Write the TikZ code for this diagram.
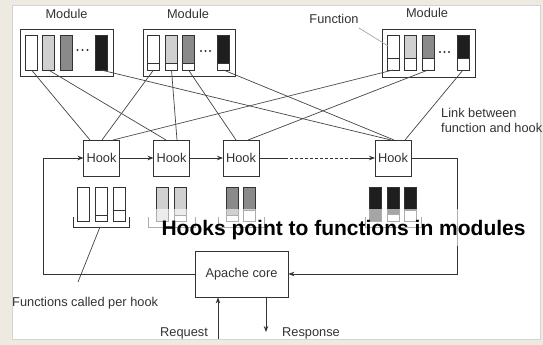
\documentclass[tikz,border=0pt]{standalone}
\usepackage{fontspec}
\setmainfont{Liberation Sans}
\usetikzlibrary{arrows.meta}
\definecolor{bgc}{HTML}{EDEBE1}
\definecolor{panelc}{HTML}{D4D4D4}
\definecolor{linec}{HTML}{333333}
\definecolor{connc}{HTML}{444444}
\definecolor{textc}{HTML}{333333}
\definecolor{lightg}{HTML}{D0D0D0}
\definecolor{midg}{HTML}{8A8A8A}
\definecolor{blackf}{HTML}{1E1E1E}
\definecolor{ptrc}{HTML}{9A9A9A}
\newcommand{\lblfont}{\fontsize{12.8}{15}\selectfont}
\begin{document}
\begin{tikzpicture}[x=1pt,y=-1pt,
  modbox/.style={draw=linec, line width=0.8pt, inner sep=0pt, outer sep=0pt},
  fn/.style={draw=linec, line width=0.7pt, minimum width=12pt, minimum height=35pt, inner sep=0pt, outer sep=0pt},
  gfn/.style={draw=linec, line width=0.7pt, minimum width=12pt, minimum height=34pt, inner sep=0pt, outer sep=0pt},
  comp/.style={draw=linec, line width=0.7pt, fill=white},
  hookbox/.style={draw=linec, line width=0.8pt, minimum width=36pt, minimum height=36pt, inner sep=0pt, outer sep=0pt, font=\lblfont, text=textc},
  conn/.style={draw=connc, line width=0.7pt},
  flow/.style={draw=linec, line width=0.8pt},
  tip/.style={-{Stealth[length=6pt,width=4.5pt]}},
  brk/.style={draw=linec, line width=0.7pt},
  lbl/.style={font=\lblfont, text=textc, inner sep=0pt},
  dot/.style={fill=linec}
]
\useasboundingbox (0,0) rectangle (543,345);
\fill[bgc] (0,0) rectangle (543,345);
\draw[panelc, fill=white, line width=0.6pt] (12,5) rectangle (540,339);

% ---------- modules ----------
\node[modbox, minimum width=93pt, minimum height=47pt] (mod1) at (66.5,52.5) {};
\node[modbox, minimum width=92pt, minimum height=47pt] (mod2) at (189,52.5) {};
\node[modbox, minimum width=93pt, minimum height=48pt] (mod3) at (428.5,53) {};

\node[lbl] (lm1) at (66.5,14) {Module};
\node[lbl] (lm2) at (188,14) {Module};
\node[lbl] (lm3) at (427,13) {Module};
\node[lbl] (lfn) at (334,19) {Function};

% module 1 functions
\node[fn, fill=white]  (m1a) at (31.5,52.5) {};
\node[fn, fill=lightg] (m1b) at (48.5,52.5) {};
\node[fn, fill=midg]   (m1c) at (66,52.5) {};
\node[fn, fill=blackf] (m1d) at (101,52.5) {};
\foreach \x in {77.5,82.5,87.5} \fill[dot] (\x,50) circle (1.2);

% module 2 functions
\node[fn, fill=white]  (m2a) at (153.5,52.5) {};
\node[fn, fill=lightg] (m2b) at (171.5,52.5) {};
\node[fn, fill=midg]   (m2c) at (188.5,52.5) {};
\node[fn, fill=blackf] (m2d) at (223.5,52.5) {};
\foreach \x in {153.5,171.5,188.5,223.5} \draw[comp] (\x-6,63.5) rectangle (\x+6,70);
\foreach \x in {201,205.5,210} \fill[dot] (\x,51) circle (1.2);

% module 3 functions
\node[fn, fill=white]  (m3a) at (393,52.5) {};
\node[fn, fill=lightg] (m3b) at (410.5,52.5) {};
\node[fn, fill=midg]   (m3c) at (428,52.5) {};
\node[fn, fill=blackf] (m3d) at (463,52.5) {};
\foreach \x in {393,410.5,428,463} \draw[comp] (\x-6,58) rectangle (\x+6,70);
\foreach \x in {440,444.5,449} \fill[dot] (\x,52) circle (1.2);

% pointer from "Function"
\coordinate (fnp) at (359,28);
\coordinate (fnq) at (388,46);
\draw[ptrc, line width=0.6pt] (fnp) -- (fnq);

% ---------- hooks ----------
\node[hookbox] (h1) at (101.5,158) {Hook};
\node[hookbox] (h2) at (171.5,158) {Hook};
\node[hookbox] (h3) at (241,158) {Hook};
\node[hookbox] (h4) at (393,158) {Hook};

% connectors function -> hook
\draw[conn] (m1a.south) -- ([xshift=-11.5pt]h1.north);
\draw[conn] (m2a.south) -- ([xshift=0.5pt]h1.north);
\draw[conn] (m3a.south) -- ([xshift=11.5pt]h1.north);
\draw[conn] (m1b.south) -- ([xshift=-5.5pt]h2.north);
\draw[conn] (m2b.south) -- ([xshift=5.5pt]h2.north);
\draw[conn] (m2c.south) -- ([xshift=-5pt]h3.north);
\draw[conn] (m3c.south) -- ([xshift=7pt]h3.north);
\draw[conn] (m1d.south) -- ([xshift=-2pt]h4.north);
\draw[conn] (m2d.south) -- ([xshift=1pt]h4.north);
\draw[conn] (m3d.south) -- ([xshift=12pt]h4.north);

\node[lbl, anchor=west, align=left] (llink) at (441,120.5) {Link between\\function and hook};

% hook chain
\draw[flow, tip] (h1.east) -- (h2.west);
\draw[flow, tip] (h2.east) -- (h3.west);
\coordinate (da) at (285,158);
\coordinate (db) at (353,158);
\draw[flow] (h3.east) -- (da);
\draw[flow, dashed, dash pattern=on 3pt off 2pt] (da) -- (db);
\draw[flow, tip] (db) -- (h4.west);

% ---------- apache core ----------
\node[draw=linec, line width=0.8pt, minimum width=93pt, minimum height=46pt, inner sep=0pt, font=\lblfont, text=textc] (core) at (241.5,274) {Apache core};
\coordinate (lx) at (43,0);
\coordinate (rx) at (457,0);
\draw[flow, tip] (core.west) -| (lx |- h1.west) -- (h1.west);
\draw[flow, tip] (h4.east) -| (rx |- core.east) -- (core.east);

\coordinate (req) at (218,339);
\coordinate (resp) at (266,332);
\draw[flow, tip] (req) -- (req |- core.south);
\draw[flow, tip] (resp |- core.south) -- (resp);
\node[lbl] (lreq) at (184,333) {Request};
\node[lbl, anchor=west] (lresp) at (282,333) {Response};

% ---------- functions per hook ----------
% group 1
\node[gfn, fill=white] (g1a) at (83,204) {};
\node[gfn, fill=white] (g1b) at (101,204) {};
\node[gfn, fill=white] (g1c) at (119,204) {};
\draw[comp] (95,215) -- (107,215);
\draw[comp] (113,210) -- (125,210);
% group 2
\node[gfn, fill=lightg] (g2a) at (162,204) {};
\node[gfn, fill=lightg] (g2b) at (180,204) {};
\draw[comp] (174,215) rectangle (186,221);
% group 3
\node[gfn, fill=midg] (g3a) at (232.5,204) {};
\node[gfn, fill=midg] (g3b) at (249.5,204) {};
\draw[comp] (226.5,215) rectangle (238.5,221);
\draw[comp] (243.5,210) rectangle (255.5,221);
% group 4
\node[gfn, fill=blackf] (g4a) at (375.5,204) {};
\node[gfn, fill=blackf] (g4b) at (393,204) {};
\node[gfn, fill=blackf] (g4c) at (410.5,204) {};
\draw[comp] (387,214.5) rectangle (399,221);
\draw[comp] (404.5,210) rectangle (416.5,221);

% brackets
\draw[brk] (73,217) -- (73,227) -- (129,227) -- (129,217);
\draw[brk] (148,217) -- (148,227) -- (195,227) -- (195,217);
\draw[brk] (218,217) -- (218,227) -- (264,227) -- (264,217);
\draw[brk] (365,217) -- (365,227) -- (421,227) -- (421,217);

\node[lbl, anchor=west] (lfph) at (12,303) {Functions called per hook};
\coordinate (bk1) at (100,227);
\coordinate (fpt) at (78,282);
\draw[conn] (bk1) -- (fpt);

% overlay caption
\fill[white, fill opacity=0.6] (148,209) rectangle (535,246);
\node[font=\bfseries\fontsize{21}{24}\selectfont, anchor=base, inner sep=0pt] (title) at (343.5,235) {Hooks point to functions in modules};
\end{tikzpicture}
\end{document}
